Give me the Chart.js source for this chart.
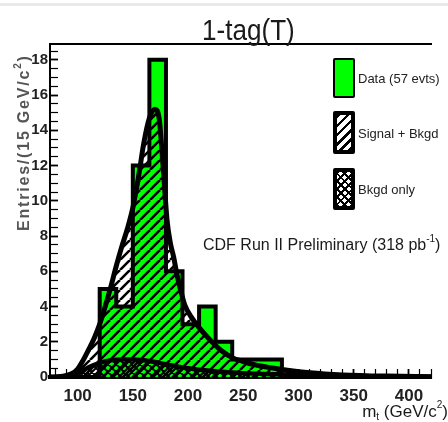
<!DOCTYPE html>
<html>
<head>
<meta charset="utf-8">
<script src="https://cdn.jsdelivr.net/npm/chart.js@4.4.1/dist/chart.umd.min.js"></script>
<style>
  html, body { margin: 0; padding: 0; background: #fff; }
  body { position: relative; width: 448px; height: 422px; overflow: hidden; font-family: Arial, "Liberation Sans", sans-serif; }
  canvas { position: absolute; left: 0; top: 0; }
  .txt { position: absolute; white-space: nowrap; color: #1a1a1a; }
  .sm { font-size: 10px; position: relative; }
  .box { position: absolute; left: 333px; width: 22px; box-sizing: border-box; border: 4px solid #000; border-radius: 2px; }
  #topStrip { position: absolute; left: 0; top: 3px; width: 448px; height: 3px; background: #e9e9e9; }
</style>
</head>
<body>
<canvas id="mtChart" width="448" height="422"></canvas>
<div id="topStrip"></div>

<div class="txt" style="left:202px; top:15px; font-size:30px; line-height:30px; transform:scaleX(0.87); transform-origin:0 0;">1-tag(T)</div>

<div class="txt" style="left:17px; top:231px; font-size:16px; line-height:14px; font-weight:bold; letter-spacing:1.8px; color:#555; transform:rotate(-90deg); transform-origin:0 0;">Entries/(15 GeV/c<span class="sm" style="top:-8px">2</span>)</div>

<div class="txt" style="right:0; top:403px; font-size:17px; line-height:17px;">m<span class="sm" style="top:3px">t</span> (GeV/c<span class="sm" style="top:-9px">2</span>)</div>

<div class="txt" style="left:203px; top:237px; font-size:16px; line-height:16px;">CDF Run II Preliminary (318 pb<span class="sm" style="top:-8px">-1</span>)</div>

<div class="box" style="top:58px; height:40px; border-width:2px; background:#00ff00;"></div>
<div class="box" style="top:111px; height:43px; background:repeating-linear-gradient(135deg, #000 0 2.5px, #fff 2.5px 6.5px);"></div>
<div class="box" style="top:168px; height:42px; background:repeating-linear-gradient(135deg, #000 0 2px, transparent 2px 5.5px), repeating-linear-gradient(45deg, #000 0 2px, #fff 2px 5.5px);"></div>
<div class="txt" id="leg0" style="left:358px; top:72px; font-size:13px; line-height:13px; color:#222;"></div>
<div class="txt" id="leg1" style="left:358px; top:127px; font-size:13px; line-height:13px; color:#222;"></div>
<div class="txt" id="leg2" style="left:358px; top:183px; font-size:13px; line-height:13px; color:#222;"></div>

<script>
// top mass, 1-tag (tight) sample, 15 GeV/c^2 bins
const binEdges = [75, 90, 105, 120, 135, 150, 165, 180, 195, 210, 225, 240, 255, 270, 285, 300, 315, 330, 345, 360, 375, 390, 405];
const dataCounts = [0, 0, 0, 5, 4, 12, 18, 6, 3, 4, 2, 1, 1, 1, 0, 0, 0, 0, 0, 0, 0, 0, 0];
const binWidth = 15;

// signal + background template
const sigMass = [75, 85, 95, 100, 105, 110, 115, 120, 125, 130, 135, 140, 145, 150, 155, 160, 165, 170, 174, 177, 181, 184, 187, 190, 193, 197, 203, 210, 220, 230, 240, 250, 260, 275, 290, 310, 340, 380, 420];
const sigValues = [0, 0.03, 0.2, 0.45, 0.95, 1.55, 2.2, 3.0, 4.0, 5.1, 6.3, 7.4, 8.4, 9.6, 11.3, 13.3, 14.7, 15.2, 14.6, 12.3, 8.9, 7.6, 6.8, 5.8, 5.0, 4.1, 3.4, 2.8, 2.1, 1.5, 1.1, 0.88, 0.7, 0.52, 0.38, 0.24, 0.12, 0.05, 0.02];

// background only template
const bkgMass = [75, 90, 100, 110, 120, 130, 140, 150, 160, 170, 180, 190, 200, 215, 230, 250, 280, 320, 370, 420];
const bkgValues = [0, 0.04, 0.2, 0.55, 0.8, 0.95, 1.0, 1.0, 0.95, 0.85, 0.72, 0.6, 0.5, 0.38, 0.3, 0.22, 0.15, 0.08, 0.04, 0.02];

const xTickLabels = [100, 150, 200, 250, 300, 350, 400];
const yTickLabels = [0, 2, 4, 6, 8, 10, 12, 14, 16, 18];
const legendLabels = ["Data (57 evts)", "Signal + Bkgd", "Bkgd only"];

legendLabels.forEach((t, i) => { document.getElementById("leg" + i).textContent = t; });

// minor ticks: every 10 GeV on x, every half entry on y
const xTickValues = [];
for (let v = 80; v <= 420; v += 10) xTickValues.push(v);
const yTickValues = [];
for (let v = 0; v <= 18.5; v += 0.5) yTickValues.push(v);

const ctx = document.getElementById("mtChart").getContext("2d");

function makeHatch(size, width, cross) {
  const c = document.createElement("canvas");
  c.width = size;
  c.height = size;
  const g = c.getContext("2d");
  g.strokeStyle = "#000";
  g.lineWidth = width;
  g.beginPath();
  for (let k = -1; k <= 1; k++) {
    g.moveTo(k * size, size);
    g.lineTo(k * size + size, 0);
    if (cross) {
      g.moveTo(k * size, 0);
      g.lineTo(k * size + size, size);
    }
  }
  g.stroke();
  return ctx.createPattern(c, "repeat");
}

const hatchSig = makeHatch(10, 2.6, false);
const hatchBkg = makeHatch(8, 2, true);

// histogram as step line: value held from each left edge
const dataPoints = binEdges.map((x, i) => ({ x: x, y: dataCounts[i] }));
dataPoints.push({ x: binEdges[binEdges.length - 1] + binWidth, y: dataCounts[dataCounts.length - 1] });
const sigPoints = sigMass.map((x, i) => ({ x: x, y: sigValues[i] }));
const bkgPoints = bkgMass.map((x, i) => ({ x: x, y: bkgValues[i] }));

new Chart(ctx, {
  type: "line",
  data: {
    datasets: [
      { label: legendLabels[0], data: dataPoints, xAxisID: "x", stepped: true, fill: "origin",
        backgroundColor: "#00ff00", borderColor: "#000", borderWidth: 4, pointRadius: 0, order: 3 },
      { label: legendLabels[1], data: sigPoints, xAxisID: "x", cubicInterpolationMode: "monotone", fill: "origin",
        backgroundColor: hatchSig, borderColor: "#000", borderWidth: 5, pointRadius: 0, order: 2 },
      { label: legendLabels[2], data: bkgPoints, xAxisID: "x", cubicInterpolationMode: "monotone", fill: "origin",
        backgroundColor: hatchBkg, borderColor: "#000", borderWidth: 4.5, pointRadius: 0, order: 1 }
    ]
  },
  options: {
    responsive: false,
    animation: false,
    layout: { padding: { left: 0, top: 44, right: 0, bottom: 0 } },
    plugins: { legend: { display: false }, tooltip: { enabled: false } },
    scales: {
      x: {
        type: "linear",
        position: "bottom",
        min: 75,
        max: 420,
        afterBuildTicks: s => { s.ticks = xTickValues.map(v => ({ value: v })); },
        ticks: {
          autoSkip: false,
          maxRotation: 0,
          padding: 17,
          color: "#222",
          font: { size: 17, weight: "bold" },
          callback: v => (xTickLabels.includes(v) ? String(v) : "")
        },
        grid: {
          drawOnChartArea: false,
          drawTicks: true,
          tickLength: -8,
          tickColor: "#000",
          tickWidth: c => (c.tick && c.tick.value % 50 === 0 ? 1.8 : 1.2)
        },
        border: { display: true, color: "#000", width: 4 },
        afterFit: s => { s.height = 45; }
      },
      xTop: {
        type: "linear",
        position: "top",
        min: 75,
        max: 420,
        ticks: { display: false },
        grid: { display: false },
        border: { display: true, color: "#000", width: 2 },
        afterFit: s => { s.height = 0; }
      },
      y: {
        min: 0,
        max: 18.9,
        afterBuildTicks: s => { s.ticks = yTickValues.map(v => ({ value: v })); },
        ticks: {
          autoSkip: false,
          padding: 10,
          color: "#222",
          font: { size: 15, weight: "bold" },
          callback: v => (yTickLabels.includes(v) ? String(v) : "")
        },
        grid: {
          drawOnChartArea: false,
          drawTicks: true,
          tickLength: -8,
          tickColor: "#000",
          tickWidth: c => (c.tick && c.tick.value % 2 === 0 ? 1.8 : 1.2)
        },
        border: { display: true, color: "#000", width: 2 },
        afterFit: s => { s.width = 50; }
      }
    }
  }
});
</script>
</body>
</html>
